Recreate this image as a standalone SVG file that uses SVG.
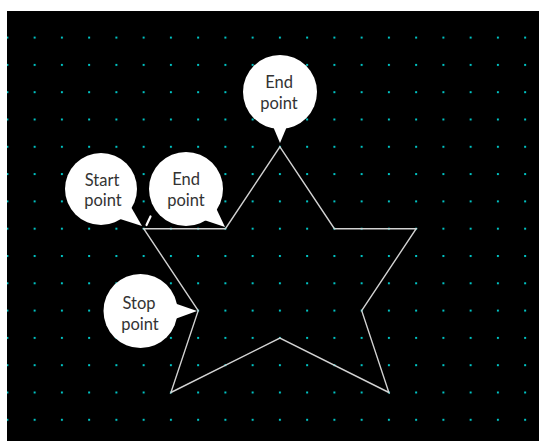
<svg xmlns="http://www.w3.org/2000/svg" width="539" height="441" viewBox="0 0 539 441">
  <style>
    .bubble { fill: #ffffff; }
    .label { font-family: Lato, "Open Sans", sans-serif; font-size: 16.5px; fill: #333333; text-anchor: middle; }
    .star { fill: none; stroke: #d2d2d2; stroke-width: 1.4; stroke-linejoin: miter; }
  </style>
  <defs>
    <pattern id="grid" patternUnits="userSpaceOnUse" x="6.4" y="36.6" width="27.25" height="27.3">
      <rect x="0" y="0" width="2" height="2" fill="#00c4c4"/>
    </pattern>
  </defs>
  <rect x="0" y="0" width="539" height="441" fill="#ffffff"/>
  <rect x="7" y="11" width="532" height="430" fill="#000000"/>
  <rect x="7" y="13" width="532" height="428" fill="url(#grid)"/>

  <g id="connectors">
    <polygon class="star" points="279.9,146.8 334.4,228.7 416.2,228.7 361.7,310.6 388.9,392.5 279.9,338 170.9,392.5 198.2,310.6 143.7,228.7 225.4,228.7"/>
    <line x1="146.5" y1="225" x2="150.5" y2="216.5" stroke="#ffffff" stroke-width="2.2" stroke-linecap="round"/>
  </g>

  <g id="callout-end-top">
    <circle class="bubble" cx="280" cy="92" r="37"/>
    <path class="bubble" d="M272,124 L288,124 L280,143 Z"/>
    <text class="label" x="279" y="87.5">End</text>
    <text class="label" x="279" y="108.5">point</text>
  </g>

  <g id="callout-start">
    <circle class="bubble" cx="101" cy="189" r="36"/>
    <path class="bubble" d="M117,218 L131,207 L142,226 Z"/>
    <text class="label" x="102" y="185.5">Start</text>
    <text class="label" x="103" y="206">point</text>
  </g>

  <g id="callout-end-mid">
    <circle class="bubble" cx="186" cy="189" r="37"/>
    <path class="bubble" d="M204,220 L216,208 L225,227 Z"/>
    <text class="label" x="186" y="185">End</text>
    <text class="label" x="186" y="206">point</text>
  </g>

  <g id="callout-stop">
    <circle class="bubble" cx="140.5" cy="311" r="37"/>
    <path class="bubble" d="M174,303 L175,319 L197,311 Z"/>
    <text class="label" x="139" y="309">Stop</text>
    <text class="label" x="140" y="329.5">point</text>
  </g>
</svg>
